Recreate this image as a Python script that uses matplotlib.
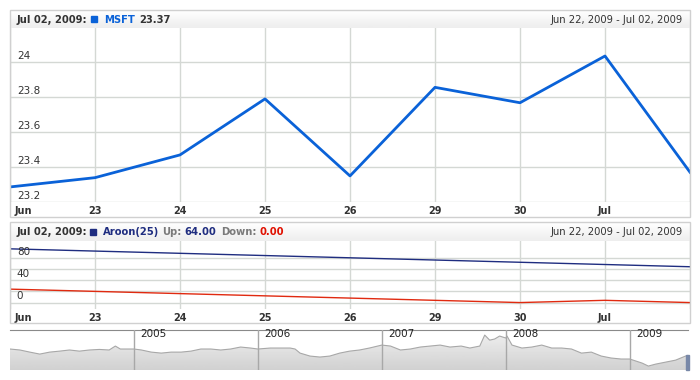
import numpy as np
import matplotlib
matplotlib.use("Agg")
import matplotlib.pyplot as plt
from matplotlib.patches import Rectangle

# ---- data ----
day_labels = ["", "23", "24", "25", "26", "29", "30", "Jul", ""]
first_label = "Jun"
msft_close = [23.286, 23.339, 23.469, 23.789, 23.349, 23.855, 23.767, 24.034, 23.37]
aroon_up = [96, 92, 88, 84, 80, 76, 72, 68, 64]
aroon_down = [24, 20, 16, 12, 8, 4, 0, 4, 0]
price_ticks = [23.2, 23.4, 23.6, 23.8, 24.0]
price_tick_labels = ["23.2", "23.4", "23.6", "23.8", "24"]
aroon_grid = [0, 20, 40, 60, 80]
aroon_tick_labels = {80: "80", 40: "40", 0: "0"}

# navigator (whole history, fractional years)
nav_years = [2004.0, 2004.08, 2004.16, 2004.24, 2004.32, 2004.40, 2004.48, 2004.56,
             2004.64, 2004.72, 2004.80, 2004.85, 2004.89, 2005.0, 2005.06, 2005.14,
             2005.22, 2005.30, 2005.38, 2005.46, 2005.54, 2005.62, 2005.70, 2005.78,
             2005.86, 2005.94, 2006.0, 2006.10, 2006.26, 2006.30, 2006.34, 2006.42,
             2006.50, 2006.58, 2006.66, 2006.74, 2006.82, 2006.90, 2007.0, 2007.07,
             2007.15, 2007.23, 2007.31, 2007.39, 2007.47, 2007.55, 2007.64, 2007.71,
             2007.79, 2007.83, 2007.87, 2007.91, 2007.95, 2008.0, 2008.01, 2008.05,
             2008.13, 2008.21, 2008.29, 2008.37, 2008.45, 2008.53, 2008.61, 2008.69,
             2008.77, 2008.85, 2008.93, 2009.0, 2009.10, 2009.15, 2009.21, 2009.29,
             2009.37, 2009.45, 2009.48]
nav_price = [27.1, 26.4, 24.9, 23.5, 24.9, 25.6, 26.4, 25.6, 26.4, 26.8, 26.4,
             29.2, 27.1, 27.1, 26.4, 24.9, 24.2, 24.9, 24.9, 25.6, 27.1, 27.1,
             26.4, 27.1, 28.5, 27.8, 27.1, 27.8, 27.8, 27.1, 24.2, 22.1, 21.4,
             22.1, 24.2, 25.6, 26.4, 27.8, 29.9, 29.2, 26.4, 27.1, 28.5, 29.2,
             29.9, 28.5, 29.2, 27.8, 29.2, 37.0, 33.4, 34.2, 36.3, 34.9, 36.3,
             29.9, 27.8, 28.5, 29.9, 27.8, 27.8, 27.1, 24.2, 24.9, 22.1, 20.7,
             20.0, 20.0, 17.1, 15.0, 16.4, 17.8, 19.2, 22.1, 22.8]
nav_years_marks = [2005, 2006, 2007, 2008, 2009]

W, H = 700, 380
fig = plt.figure(figsize=(7, 3.8), dpi=100)
fig.patch.set_facecolor("white")


def rect(x0, y0, x1, y1):
    # pixel box (top-left origin) -> figure fraction
    return [x0 / W, (H - y1) / H, (x1 - x0) / W, (y1 - y0) / H]


def box(x0, y0, x1, y1, ec="#d0d0d0"):
    r = rect(x0, y0, x1, y1)
    fig.patches.append(Rectangle((r[0], r[1]), r[2], r[3], transform=fig.transFigure,
                                 fill=False, ec=ec, lw=1, zorder=10))


grid_c = "#d4d8d4"
txt_c = "#333333"
xs = np.arange(len(msft_close))


def header(y0, y1):
    hax = fig.add_axes(rect(10, y0, 690, y1))
    grad = np.linspace(1.0, 0.93, 20).reshape(-1, 1)
    hax.imshow(grad, cmap="gray", vmin=0, vmax=1, aspect="auto", extent=[0, 1, 0, 1])
    hax.set_xlim(0, 1)
    hax.set_ylim(0, 1)
    hax.axis("off")
    return hax


def chain(hax, parts, x_start):
    t = hax.text(x_start, 0.45, parts[0][0], color=parts[0][1], fontsize=7.2,
                 fontweight="bold", va="center", ha="left", transform=hax.transAxes)
    prev = t
    for s, c, gap in parts[1:]:
        prev = hax.annotate(s, xy=(1, 0), xycoords=prev, xytext=(gap, 0),
                            textcoords="offset points", color=c, fontsize=7.2,
                            fontweight="bold", va="bottom", ha="left")
    return t


def square(hax, x_px, color):
    hax.add_patch(Rectangle(((x_px - 10) / 680, 0.32), 6 / 680, 0.33,
                            transform=hax.transAxes, color=color))


def style_plot(ax):
    ax.set_xlim(0, 8)
    ax.set_xticks(xs)
    ax.set_xticklabels(day_labels, fontsize=7, fontweight="bold", color=txt_c)
    ax.tick_params(length=0, pad=3)
    ax.grid(True, color=grid_c, lw=1)
    ax.set_yticklabels([])
    for s in ax.spines.values():
        s.set_visible(False)
    ax.annotate(first_label, xy=(0, 0), xycoords="axes fraction", xytext=(3, -3),
                textcoords="offset points", fontsize=7, fontweight="bold",
                color=txt_c, ha="left", va="top", annotation_clip=False)


# ---------- top panel ----------
box(10, 10, 690, 217)
h1 = header(10, 28)
chain(h1, [("Jul 02, 2009:", txt_c), ("MSFT", "#0a62d8", 12), ("23.37", txt_c, 3)], 7 / 680)
square(h1, 91, "#0a62d8")
h1.text(0.99, 0.45, "Jun 22, 2009 - Jul 02, 2009", color=txt_c, fontsize=7.2,
        ha="right", va="center", transform=h1.transAxes)

ax1 = fig.add_axes(rect(10, 28, 690, 202))
ax1.plot(xs, msft_close, color="#0a62d8", lw=2, zorder=3)
ax1.set_ylim(23.2, 24.194)
ax1.set_yticks(price_ticks)
style_plot(ax1)
for v, lab in zip(price_ticks, price_tick_labels):
    ax1.text(0.08, v + 0.008, lab, fontsize=7.5, color=txt_c, va="bottom", ha="left")

# ---------- bottom panel ----------
box(10, 222, 690, 323)
h2 = header(222, 241)
chain(h2, [("Jul 02, 2009:", txt_c), ("Aroon(25)", "#1f2d80", 11),
           ("Up:", "#7a7a7a", 2), ("64.00", "#1f2d80", 2),
           ("Down:", "#7a7a7a", 4), ("0.00", "#e01000", 2)], 7 / 680)
square(h2, 90, "#1f2d80")
h2.text(0.99, 0.45, "Jun 22, 2009 - Jul 02, 2009", color=txt_c, fontsize=7.2,
        ha="right", va="center", transform=h2.transAxes)

ax2 = fig.add_axes(rect(10, 241, 690, 309))
ax2.plot(xs, aroon_up, color="#1f2d80", lw=1, zorder=3)
ax2.plot(xs, aroon_down, color="#e02a10", lw=1, zorder=3)
ax2.set_ylim(-11.5, 110)
ax2.set_yticks(aroon_grid)
style_plot(ax2)
for v, lab in aroon_tick_labels.items():
    ax2.text(0.08, v + 2, lab, fontsize=7.5, color=txt_c, va="bottom", ha="left")

# ---------- navigator ----------
ax3 = fig.add_axes(rect(10, 330, 688, 370))
ax3.set_xlim(2004.0, 2009.47)
ax3.set_ylim(12.2, 40.6)
area = ax3.fill_between(nav_years, nav_price, 12.2, color="none", lw=0)
grad = np.linspace(0.93, 0.82, 40).reshape(-1, 1)
im = ax3.imshow(grad, cmap="gray", vmin=0, vmax=1, aspect="auto",
                extent=[2004.0, 2009.48, 12.2, 37.5], zorder=1)
im.set_clip_path(area.get_paths()[0], transform=ax3.transData)
ax3.plot(nav_years, nav_price, color="#a8a8a8", lw=0.8, zorder=2)
for yr in nav_years_marks:
    ax3.axvline(yr, color="#a8a8a8", lw=1, zorder=3)
    ax3.text(yr + 0.05, 37.5, str(yr), fontsize=7.5, color="#222222", va="center")
ax3.set_xticks([])
ax3.set_yticks([])
for k, s in ax3.spines.items():
    s.set_visible(k == "top")
ax3.spines["top"].set_color("#8a8a8a")
ax3.add_patch(Rectangle((2009.45, 12.2), 0.03, 10.5, color="#7888a8", clip_on=False, zorder=4))

fig.savefig("out.png", dpi=100)
